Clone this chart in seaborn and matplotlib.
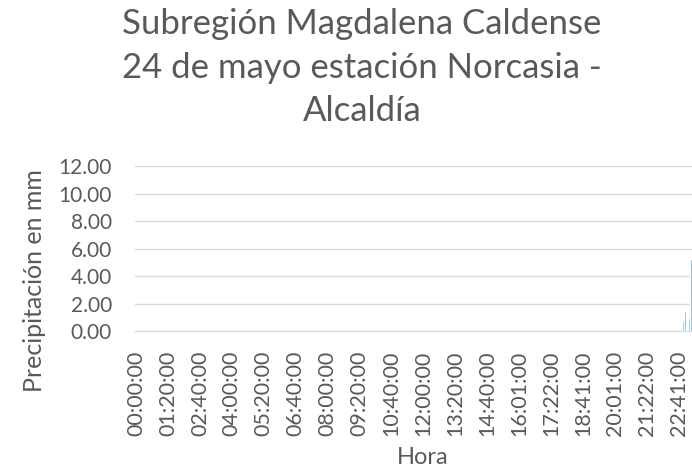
import numpy as np
import pandas as pd
import seaborn as sns
import matplotlib
import matplotlib.pyplot as plt

matplotlib.use('Agg')

# Data: 5-minute readings, only a few non-zero values at the end of the day
n_points = 279
rain_idx = [274, 275, 277, 278]
rain_mm = [0.70, 1.46, 0.94, 5.26]

tick_step = 16
tick_labels = ['00:00:00', '01:20:00', '02:40:00', '04:00:00', '05:20:00', '06:40:00',
               '08:00:00', '09:20:00', '10:40:00', '12:00:00', '13:20:00', '14:40:00',
               '16:01:00', '17:22:00', '18:41:00', '20:01:00', '21:22:00', '22:41:00']

values = np.zeros(n_points)
values[rain_idx] = rain_mm
df = pd.DataFrame({'pos': np.arange(n_points), 'mm': values})

sns.set_style('white')
plt.rcParams['font.family'] = ['Lato', 'DejaVu Sans']
grey = '#595959'

fig = plt.figure(figsize=(6.92, 4.68), dpi=100)
ax = fig.add_axes([135 / 692, 1 - 331 / 468, 557 / 692, 165 / 468])

sns.barplot(data=df, x='pos', y='mm', color='#5b9bd5', width=0.6,
            saturation=1, ax=ax, errorbar=None)

ax.set_ylim(0, 12)
ax.set_yticks(np.arange(0, 12.1, 2))
ax.set_yticklabels([f'{v:.2f}' for v in np.arange(0, 12.1, 2)])
ax.set_xlim(-0.5, n_points - 0.5)
ax.set_xticks(np.arange(0, len(tick_labels) * tick_step, tick_step))
ax.set_xticklabels(tick_labels, rotation=90)

ax.grid(axis='y', color='#d9d9d9', linewidth=1)
ax.set_axisbelow(True)
for s in ['top', 'right', 'left']:
    ax.spines[s].set_visible(False)
ax.spines['bottom'].set_color('#d9d9d9')
ax.tick_params(axis='y', length=0, labelsize=15, colors=grey, pad=16.5)
ax.tick_params(axis='x', length=0, labelsize=15.5, colors=grey, pad=14)
ax.set_xlabel('')
ax.set_ylabel('')

# axis titles placed like the Excel original
fig.text(423 / 692, 1 - 457 / 468, 'Hora', ha='center', va='center',
         fontsize=17, color=grey)
fig.text(35 / 692, 1 - 281 / 468, 'Precipitación en mm', ha='center', va='center',
         rotation=90, fontsize=18, color=grey)

fig.text(362 / 692, 0.983, 'Subregión Magdalena Caldense\n24 de mayo estación Norcasia -\nAlcaldía',
         ha='center', va='top', fontsize=25, color=grey, linespacing=1.45)

fig.savefig('out.png', dpi=100)
plt.close(fig)
